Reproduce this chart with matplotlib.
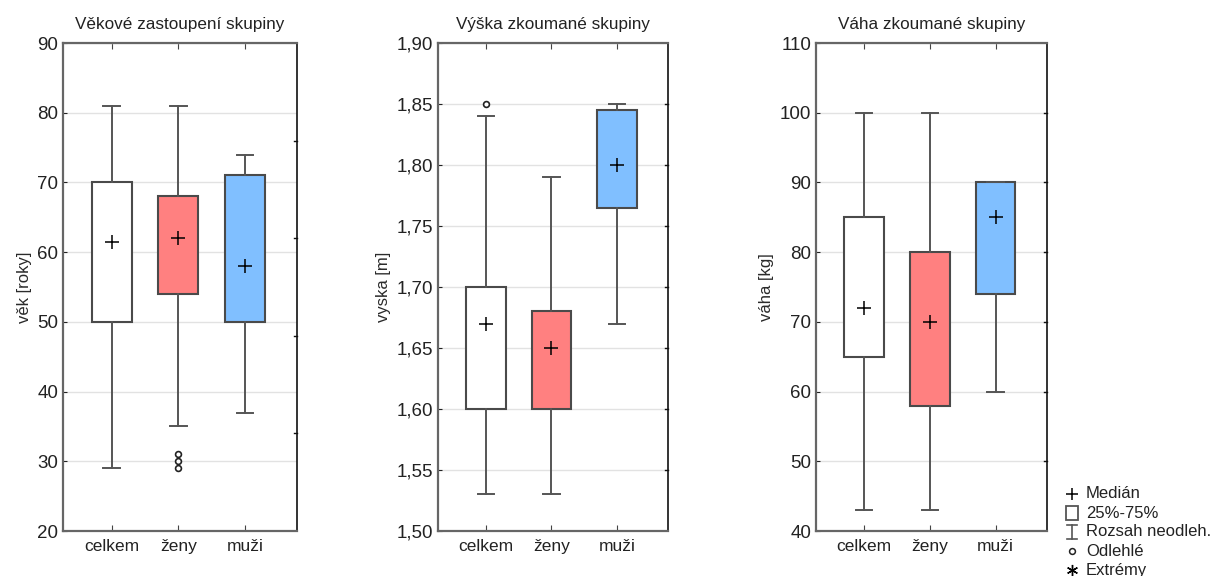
import matplotlib.pyplot as plt
import numpy as np
from matplotlib.lines import Line2D
from matplotlib.patches import Rectangle
from matplotlib.ticker import FuncFormatter

plt.rcParams["font.family"] = ["Liberation Sans", "DejaVu Sans"]

# Categories and colours
groups = ["celkem", "ženy", "muži"]
box_colors = ["#ffffff", "#ff8080", "#80bfff"]

# Age (věk) - min, q1, median, q3, max, outliers
age_min = [29, 35, 37]
age_q1 = [50, 54, 50]
age_med = [61.5, 62, 58]
age_q3 = [70, 68, 71]
age_max = [81, 81, 74]
age_out = [[], [29, 30, 31], []]

# Height (výška) [m]
height_min = [1.53, 1.53, 1.67]
height_q1 = [1.60, 1.60, 1.765]
height_med = [1.67, 1.65, 1.80]
height_q3 = [1.70, 1.68, 1.845]
height_max = [1.84, 1.79, 1.85]
height_out = [[1.85], [], []]

# Weight (váha) [kg]
weight_min = [43, 43, 60]
weight_q1 = [65, 58, 74]
weight_med = [72, 70, 85]
weight_q3 = [85, 80, 90]
weight_max = [100, 100, 90]
weight_out = [[], [], []]

legend_labels = ["Medián", "25%-75%", "Rozsah neodleh.", "Odlehlé", "Extrémy"]


def make_stats(mins, q1s, meds, q3s, maxs, outs):
    stats = []
    for lo, q1, med, q3, hi, fl in zip(mins, q1s, meds, q3s, maxs, outs):
        stats.append({"whislo": lo, "q1": q1, "med": med, "q3": q3,
                      "whishi": hi, "fliers": fl, "label": ""})
    return stats


def draw_panel(ax, stats, title, ylabel, ylim, yticks, right_ticks, fmt=None):
    pos = np.arange(1, len(groups) + 1)
    bp = ax.bxp(stats, positions=pos, widths=0.6, patch_artist=True,
                showfliers=True, manage_ticks=False,
                boxprops=dict(edgecolor="#4a4a4a", linewidth=1.5),
                whiskerprops=dict(color="#555555", linewidth=1.4),
                capprops=dict(color="#555555", linewidth=1.4),
                capwidths=0.25,
                medianprops=dict(linestyle="none"),
                flierprops=dict(marker="o", markersize=4.2, markerfacecolor="white",
                                markeredgecolor="#222222", markeredgewidth=1.2))
    for patch, c in zip(bp["boxes"], box_colors):
        patch.set_facecolor(c)
    meds = [s["med"] for s in stats]
    ax.plot(pos, meds, linestyle="none", marker="+", markersize=10,
            markeredgewidth=1.1, color="black", zorder=5)

    ax.set_xlim(0.27, 3.78)
    ax.set_ylim(*ylim)
    ax.set_yticks(yticks)
    if fmt is not None:
        ax.yaxis.set_major_formatter(FuncFormatter(fmt))
    ax.set_xticks(pos)
    ax.set_xticklabels(groups, fontsize=12.5, color="#222222")
    ax.tick_params(axis="x", direction="in", length=4, top=True, pad=6,
                   color="#444444")
    ax.tick_params(axis="y", direction="in", length=3, labelsize=13.5,
                   labelcolor="#222222", color="#222222")
    ax.grid(axis="y", color="#e2e2e2", linewidth=1.0, zorder=0)
    ax.set_axisbelow(True)

    ax.set_title(title, fontsize=12.3, color="#222222", pad=10)
    ax.set_ylabel(ylabel, fontsize=12, color="#2a2a2a")

    for side in ["left", "bottom", "top"]:
        ax.spines[side].set_color("#666666")
        ax.spines[side].set_linewidth(1.6)
    ax.spines["right"].set_color("#111111")
    ax.spines["right"].set_linewidth(1.2)

    # right-side ticks
    for v in right_ticks:
        ax.plot([1, 0.985], [v, v], color="#111111", linewidth=1.0,
                transform=ax.get_yaxis_transform(), clip_on=False)


fig = plt.figure(figsize=(12.15, 5.76), dpi=100)

ax1 = fig.add_axes([0.0519, 0.0781, 0.1926, 0.8472])
draw_panel(ax1, make_stats(age_min, age_q1, age_med, age_q3, age_max, age_out),
           "Věkové zastoupení skupiny", "věk [roky]", (20, 90),
           np.arange(20, 91, 10), [34, 48, 62, 76])

ax2 = fig.add_axes([0.3605, 0.0781, 0.1893, 0.8472])
draw_panel(ax2, make_stats(height_min, height_q1, height_med, height_q3,
                           height_max, height_out),
           "Výška zkoumané skupiny", "vyska [m]", (1.50, 1.90),
           np.arange(1.50, 1.901, 0.05), np.arange(1.55, 1.86, 0.05),
           fmt=lambda v, p: f"{v:.2f}".replace(".", ","))

ax3 = fig.add_axes([0.6716, 0.0781, 0.1901, 0.8472])
draw_panel(ax3, make_stats(weight_min, weight_q1, weight_med, weight_q3,
                           weight_max, weight_out),
           "Váha zkoumané skupiny", "váha [kg]", (40, 110),
           np.arange(40, 111, 10), np.arange(50, 101, 10))

# legend in the lower right corner
W, H = 1215.0, 576.0
sx = 1072 / W
tx = 1086 / W
rows = [494, 513, 532, 551, 570]
for lab, yp in zip(legend_labels, rows):
    fig.text(tx, 1 - yp / H, lab, fontsize=12, color="#222222",
             va="center", ha="left")
y0 = 1 - rows[0] / H
fig.add_artist(Line2D([sx], [y0], marker="+", markersize=9, color="black",
                      markeredgewidth=1.1, transform=fig.transFigure))
y1 = 1 - rows[1] / H
fig.add_artist(Rectangle((sx - 6 / W, y1 - 7 / H), 12 / W, 14 / H,
                         facecolor="white", edgecolor="#555555", linewidth=1.3,
                         transform=fig.transFigure))
y2 = 1 - rows[2] / H
fig.add_artist(Line2D([sx, sx], [y2 - 7 / H, y2 + 7 / H], color="#555555",
                      linewidth=1.2, transform=fig.transFigure))
fig.add_artist(Line2D([sx - 5 / W, sx + 5 / W], [y2 + 7 / H, y2 + 7 / H],
                      color="#555555", linewidth=1.2, transform=fig.transFigure))
fig.add_artist(Line2D([sx - 5 / W, sx + 5 / W], [y2 - 7 / H, y2 - 7 / H],
                      color="#555555", linewidth=1.2, transform=fig.transFigure))
y3 = 1 - rows[3] / H
fig.add_artist(Line2D([sx], [y3], marker="o", markersize=4.2,
                      markerfacecolor="white", markeredgecolor="#222222",
                      markeredgewidth=1.1, transform=fig.transFigure))
y4 = 1 - rows[4] / H
fig.add_artist(Line2D([sx], [y4], marker=(6, 2, 0), markersize=8,
                      color="black", markeredgewidth=1.0,
                      transform=fig.transFigure))

fig.savefig("out.png", dpi=100)
